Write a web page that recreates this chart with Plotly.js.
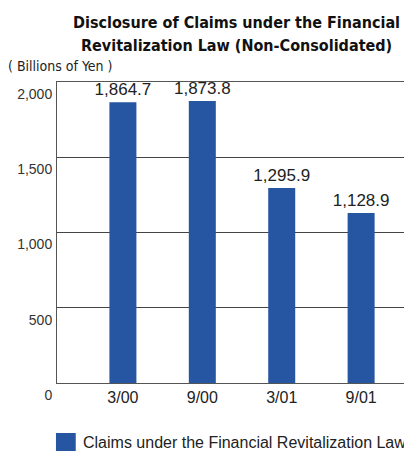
<!DOCTYPE html>
<html>
<head>
<meta charset="utf-8">
<script src="https://cdn.plot.ly/plotly-3.0.1.min.js"></script>
<style>
  html, body { margin: 0; padding: 0; background: #fff; }
  #chart { width: 404px; height: 451px; }
</style>
</head>
<body>
<div id="chart"></div>
<script>
// Period-end dates (month/year)
const periods = ['3/00', '9/00', '3/01', '9/01'];
// Claims disclosed under the Financial Revitalization Law, billions of yen
const claims = [1864.7, 1873.8, 1295.9, 1128.9];
const valueLabels = ['1,864.7', '1,873.8', '1,295.9', '1,128.9'];
const seriesName = 'Claims under the Financial Revitalization Law';
const yTicks = [0, 500, 1000, 1500, 2000];
const yTickText = ['0', '500', '1,000', '1,500', '2,000'];
const headingLines = ['Disclosure of Claims under the Financial', 'Revitalization Law (Non-Consolidated)'];

const barColor = '#2655a1';
const textFont = 'Liberation Sans, Arial, sans-serif';
const narrowFont = 'DejaVu Sans Condensed, Liberation Sans Narrow, Liberation Sans, sans-serif';

const trace = {
  type: 'bar',
  x: periods,
  y: claims,
  name: seriesName,
  width: 0.34,
  marker: { color: barColor },
  text: valueLabels,
  textposition: 'outside',
  constraintext: 'none',
  cliponaxis: false,
  textfont: { family: textFont, size: 17, color: '#222' },
  hoverinfo: 'skip'
};

// heading: two centred bold lines above the plot
const headingAnnotations = headingLines.map((line, i) => ({
  text: '<b>' + line + '</b>',
  xref: 'paper', yref: 'paper',
  x: 0.516, y: 1.0,
  xanchor: 'center', yanchor: 'middle',
  yshift: 60 - i * 23,
  showarrow: false,
  font: { family: narrowFont, size: 16, color: '#111' }
}));

const layout = {
  width: 404,
  height: 451,
  margin: { l: 57, r: 0, t: 82, b: 68 },
  paper_bgcolor: '#fff',
  plot_bgcolor: '#fff',
  showlegend: false,
  bargap: 0.5,
  xaxis: {
    type: 'category',
    range: [-0.83, 3.54],
    showline: true,
    mirror: true,
    linecolor: '#555',
    linewidth: 1,
    showgrid: false,
    ticks: '',
    tickfont: { family: textFont, size: 16, color: '#222' },
    fixedrange: true
  },
  yaxis: {
    range: [0, 2000],
    tickvals: yTicks,
    ticktext: yTickText,
    showline: true,
    linecolor: '#555',
    linewidth: 1,
    showgrid: true,
    gridcolor: '#444',
    gridwidth: 1,
    zeroline: false,
    ticks: '',
    ticklabelshift: 12,
    ticklabelstandoff: 1,
    tickfont: { family: textFont, size: 14, color: '#333' },
    fixedrange: true
  },
  annotations: headingAnnotations.concat([
    {
      text: '( Billions of Yen )',
      xref: 'paper', yref: 'paper',
      x: -0.147, y: 1.0,
      xanchor: 'left', yanchor: 'bottom',
      yshift: 6,
      showarrow: false,
      font: { family: narrowFont, size: 14, color: '#222' }
    },
    {
      text: seriesName,
      xref: 'paper', yref: 'paper',
      x: 0.07, y: 0,
      xanchor: 'left', yanchor: 'middle',
      yshift: -59,
      showarrow: false,
      font: { family: textFont, size: 16, color: '#222' }
    }
  ]),
  shapes: [
    {
      type: 'rect',
      xref: 'paper', yref: 'paper',
      x0: -0.003, x1: 0.054,
      ysizemode: 'pixel',
      yanchor: 0,
      y0: -68, y1: -50,
      fillcolor: barColor,
      line: { width: 0 }
    }
  ]
};

Plotly.newPlot('chart', [trace], layout, { displayModeBar: false, staticPlot: true });
</script>
</body>
</html>
